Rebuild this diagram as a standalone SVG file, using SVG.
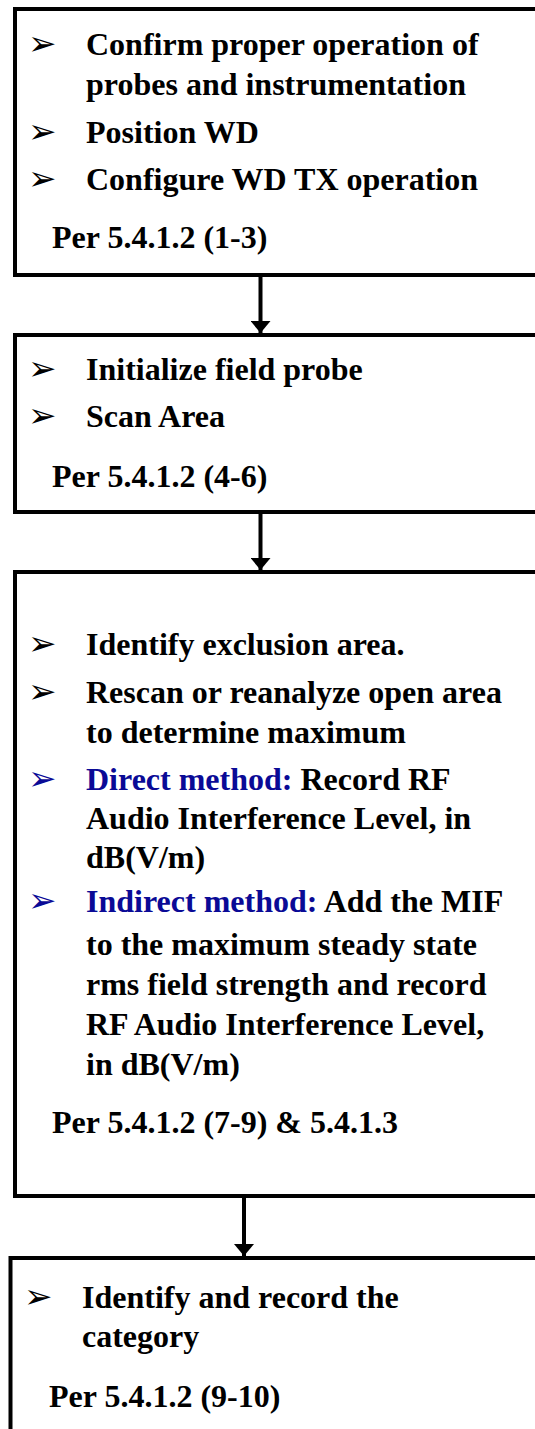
<svg xmlns="http://www.w3.org/2000/svg" width="535" height="1429" viewBox="0 0 535 1429">
<style>
.box{fill:#fff;stroke:#000;stroke-width:4}
.t{font-family:"Liberation Serif","Times New Roman",serif;font-weight:bold;font-size:32px;fill:#000}
.b{font-family:"DejaVu Sans",sans-serif;font-size:34px;fill:#000}
.blue{fill:#0a0a96}
.conn{stroke:#000;stroke-width:4;fill:none}
</style>
<defs>
<marker id="ah" markerUnits="userSpaceOnUse" markerWidth="12" markerHeight="20" refX="12" refY="10" orient="auto">
<path d="M0,0 L12,10 L0,20 Z" fill="#000"/>
</marker>
</defs>
<g id="node1">
<rect class="box" x="15" y="9" width="540" height="266"/>
<text class="b" x="28" y="55">➢</text>
<text class="t" x="86" y="55">Confirm proper operation of</text>
<text class="t" x="86" y="95">probes and instrumentation</text>
<text class="b" x="28" y="143">➢</text>
<text class="t" x="86" y="143">Position WD</text>
<text class="b" x="28" y="190">➢</text>
<text class="t" x="86" y="190">Configure WD TX operation</text>
<text class="t" x="52" y="248">Per 5.4.1.2 (1-3)</text>
</g>
<g id="node2">
<rect class="box" x="15" y="335" width="540" height="177"/>
<text class="b" x="28" y="380">➢</text>
<text class="t" x="86" y="380">Initialize field probe</text>
<text class="b" x="28" y="427">➢</text>
<text class="t" x="86" y="427">Scan Area</text>
<text class="t" x="52" y="487">Per 5.4.1.2 (4-6)</text>
</g>
<g id="node3">
<rect class="box" x="15" y="572" width="540" height="624"/>
<text class="b" x="28" y="655">➢</text>
<text class="t" x="86" y="655">Identify exclusion area.</text>
<text class="b" x="28" y="703">➢</text>
<text class="t" x="86" y="703">Rescan or reanalyze open area</text>
<text class="t" x="86" y="743">to determine maximum</text>
<text class="b blue" x="28" y="790">➢</text>
<text class="t" x="86" y="790"><tspan class="blue">Direct method:</tspan> Record RF</text>
<text class="t" x="86" y="829">Audio Interference Level, in</text>
<text class="t" x="86" y="868">dB(V/m)</text>
<text class="b blue" x="28" y="912">➢</text>
<text class="t" x="86" y="912"><tspan class="blue">Indirect method:</tspan> Add the MIF</text>
<text class="t" x="86" y="955">to the maximum steady state</text>
<text class="t" x="86" y="995">rms field strength and record</text>
<text class="t" x="86" y="1035">RF Audio Interference Level,</text>
<text class="t" x="86" y="1075">in dB(V/m)</text>
<text class="t" x="52" y="1133">Per 5.4.1.2 (7-9) &amp; 5.4.1.3</text>
</g>
<g id="node4">
<rect class="box" x="10.5" y="1258" width="540" height="200"/>
<text class="b" x="24" y="1308">➢</text>
<text class="t" x="82" y="1308">Identify and record the</text>
<text class="t" x="82" y="1347">category</text>
<text class="t" x="49" y="1407">Per 5.4.1.2 (9-10)</text>
</g>
<g id="connectors">
<line class="conn" x1="260.5" y1="277" x2="260.5" y2="333" marker-end="url(#ah)"/>
<line class="conn" x1="260.5" y1="514" x2="260.5" y2="570" marker-end="url(#ah)"/>
<line class="conn" x1="244" y1="1198" x2="244" y2="1256" marker-end="url(#ah)"/>
</g>
</svg>
